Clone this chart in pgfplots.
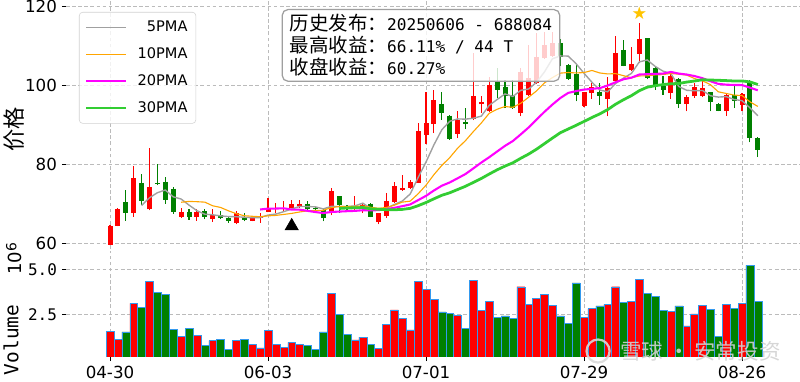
\documentclass[border=0pt]{standalone}
\usepackage{pgfplots}
\pgfplotsset{compat=1.18}
\usetikzlibrary{plotmarks}
\usepackage{fontspec}
\setmainfont{DejaVu Sans}
\newfontfamily\cjk{Noto Sans CJK SC}
\newfontfamily\mono{DejaVu Sans Mono}
\newfontfamily\sym{DejaVu Sans}
\definecolor{cred}{HTML}{FF0000}
\definecolor{cgreen}{HTML}{008000}
\definecolor{mafive}{HTML}{A0A0A0}
\definecolor{maten}{HTML}{FFA500}
\definecolor{matwenty}{HTML}{FF00FF}
\definecolor{mathirty}{HTML}{32CD32}
\definecolor{edgeblue}{HTML}{3399EE}
\definecolor{gridc}{HTML}{BBBBBB}
\definecolor{starc}{HTML}{FFC400}
\begin{document}
\begin{tikzpicture}
\path[use as bounding box] (0,0) rectangle (576pt,275.04pt);
% ---------------- price axis ----------------
\begin{axis}[
  at={(47.52pt,95.76pt)}, anchor=south west,
  scale only axis, width=528.48pt, height=179.28pt,
  xmin=-5.57, xmax=87.34, ymin=58.48, ymax=121.65,
  axis x line*=bottom, axis y line*=left,
  axis line style={draw=none},
  xtick={0,20,40,60,80}, xticklabels={},
  xtick style={draw=none},
  ytick={60,80,100,120}, yticklabels={60,80,100,120},
  ytick pos=left,
  tick align=outside, major tick length=3pt,
  ytick style={black, line width=0.6pt},
  yticklabel style={font=\fontsize{12}{14}\selectfont},
  grid=major,
  major grid style={gridc, line width=0.6pt, dash pattern=on 2.6pt off 1.8pt},
  unbounded coords=jump,
  legend style={at={(0.0177,0.952)}, anchor=north west,
    draw=gray!35, rounded corners=2.5pt, fill=white, fill opacity=0.8, text opacity=1,
    font=\fontsize{10.5}{12}\selectfont, inner xsep=4pt, inner ysep=4.5pt, row sep=6pt,
    /tikz/every odd column/.append style={column sep=5pt}},
  legend cell align=right,
  legend image code/.code={\draw[#1] (0pt,0pt) -- (29pt,0pt);},
]
% red wicks
\addplot[forget plot, cred, line width=0.8pt] coordinates {
(0,59.4)(0,64.6)(0,nan) (1,64.2)(1,69.0)(1,nan) (3,66.6)(3,79.5)(3,nan) (5,68.3)(5,84.0)(5,nan)
(9,66.4)(9,69.0)(9,nan) (11,65.6)(11,68.7)(11,nan) (13,65.4)(13,68.5)(13,nan) (16,64.7)(16,68.2)(16,nan)
(18,65.5)(18,66.8)(18,nan) (19,65.2)(19,67.6)(19,nan) (20,67.8)(20,71.3)(20,nan) (21,67.5)(21,70.2)(21,nan)
(22,68.2)(22,70.6)(22,nan) (23,68.8)(23,70.8)(23,nan) (24,69.0)(24,71.0)(24,nan) (28,67.0)(28,74.0)(28,nan)
(31,68.4)(31,71.9)(31,nan) (32,67.6)(32,70.2)(32,nan) (34,64.7)(34,67.6)(34,nan) (35,66.4)(35,72.7)(35,nan)
(36,70.2)(36,75.5)(36,nan) (37,73.3)(37,77.3)(37,nan) (38,73.7)(38,76.0)(38,nan) (39,75.2)(39,90.4)(39,nan)
(40,85.2)(40,98.2)(40,nan) (41,87.9)(41,98.7)(41,nan) (44,86.6)(44,93.4)(44,nan) (46,91.2)(46,108.1)(46,nan)
(47,93.0)(47,97.4)(47,nan) (48,93.2)(48,102.1)(48,nan) (52,92.1)(52,104.4)(52,nan) (53,97.4)(53,110.3)(53,nan)
(54,100.4)(54,113.2)(54,nan) (55,106.7)(55,113.6)(55,nan) (56,107.3)(56,113.6)(56,nan) (60,94.6)(60,98.4)(60,nan)
(61,96.5)(61,100.6)(61,nan) (63,92.1)(63,102.1)(63,nan) (64,100.8)(64,112.5)(64,nan) (66,103.6)(66,109.8)(66,nan)
(67,105.6)(67,115.9)(67,nan) (71,96.5)(71,103.0)(71,nan) (73,93.4)(73,97.6)(73,nan) (74,96.8)(74,100.6)(74,nan)
(75,97.0)(75,101.4)(75,nan) (78,92.3)(78,97.8)(78,nan) (80,93.4)(80,98.0)(80,nan)
};
% red bodies (open -> close)
\addplot[forget plot, cred, line width=3.6pt] coordinates {
(0,59.5)(0,64.4)(0,nan) (1,64.4)(1,68.5)(1,nan) (3,67.6)(3,76.5)(3,nan) (5,68.5)(5,74.2)(5,nan)
(9,66.6)(9,67.8)(9,nan) (11,66.6)(11,67.8)(11,nan) (13,66.2)(13,67.2)(13,nan) (16,65.1)(16,67.6)(16,nan)
(18,65.7)(18,66.5)(18,nan) (19,66.3)(19,66.7)(19,nan) (20,67.9)(20,68.7)(20,nan) (21,68.5)(21,68.9)(21,nan)
(22,68.6)(22,69.0)(22,nan) (23,69.0)(23,69.8)(23,nan) (24,69.3)(24,70.0)(24,nan) (28,67.8)(28,73.1)(28,nan)
(31,68.6)(31,69.5)(31,nan) (32,68.9)(32,69.7)(32,nan) (34,65.3)(34,67.5)(34,nan) (35,66.8)(35,70.7)(35,nan)
(36,70.3)(36,74.4)(36,nan) (37,73.4)(37,74.0)(37,nan) (38,74.0)(38,75.6)(38,nan) (39,75.2)(39,88.3)(39,nan)
(40,87.5)(40,90.4)(40,nan) (41,90.2)(41,96.2)(41,nan) (44,87.7)(44,91.3)(44,nan) (46,91.4)(46,97.4)(46,nan)
(47,95.2)(47,95.7)(47,nan) (48,93.4)(48,100.1)(48,nan) (52,93.0)(52,103.5)(52,nan) (53,97.6)(53,101.8)(53,nan)
(54,100.6)(54,107.3)(54,nan) (55,106.9)(55,110.3)(55,nan) (56,107.5)(56,110.8)(56,nan) (60,94.8)(60,98.2)(60,nan)
(61,98.0)(61,99.5)(61,nan) (63,96.6)(63,99.3)(63,nan) (64,101.0)(64,108.2)(64,nan) (66,103.8)(66,105.4)(66,nan)
(67,107.9)(67,111.8)(67,nan) (71,98.0)(71,102.4)(71,nan) (73,95.3)(73,97.0)(73,nan) (74,97.2)(74,99.5)(74,nan)
(75,97.2)(75,99.3)(75,nan) (78,93.6)(78,97.6)(78,nan) (80,95.1)(80,97.8)(80,nan)
};
% green wicks
\addplot[forget plot, cgreen, line width=0.8pt] coordinates {
(2,65.6)(2,73.5)(2,nan) (4,69.6)(4,77.6)(4,nan) (6,74.6)(6,80.0)(6,nan) (7,70.0)(7,76.8)(7,nan)
(8,67.4)(8,74.2)(8,nan) (10,65.9)(10,68.7)(10,nan) (12,66.0)(12,68.5)(12,nan) (14,66.0)(14,68.2)(14,nan)
(15,65.1)(15,66.8)(15,nan) (17,65.5)(17,67.5)(17,nan) (25,68.2)(25,70.6)(25,nan) (26,68.3)(26,69.3)(26,nan)
(27,65.5)(27,68.8)(27,nan) (29,67.6)(29,71.9)(29,nan) (30,68.0)(30,69.6)(30,nan) (33,66.5)(33,70.2)(33,nan)
(42,91.3)(42,98.4)(42,nan) (43,86.2)(43,92.4)(43,nan) (45,88.9)(45,94.2)(45,nan) (49,96.7)(49,104.4)(49,nan)
(50,94.2)(50,101.4)(50,nan) (51,94.0)(51,101.4)(51,nan) (57,104.8)(57,111.7)(57,nan) (58,101.4)(58,105.4)(58,nan)
(59,95.9)(59,105.2)(59,nan) (62,95.1)(62,100.6)(62,nan) (65,104.8)(65,111.5)(65,nan) (68,101.5)(68,112.1)(68,nan)
(69,98.9)(69,104.8)(69,nan) (70,97.6)(70,102.4)(70,nan) (72,94.2)(72,101.8)(72,nan) (76,93.4)(76,98.4)(76,nan)
(77,93.4)(77,95.4)(77,nan) (79,94.2)(79,99.9)(79,nan) (81,85.5)(81,101.4)(81,nan) (82,81.8)(82,86.8)(82,nan)
};
% green bodies (open -> close)
\addplot[forget plot, cgreen, line width=3.6pt] coordinates {
(2,70.3)(2,67.6)(2,nan) (4,75.1)(4,70.6)(4,nan) (6,75.1)(6,74.9)(6,nan) (7,75.6)(7,71.0)(7,nan)
(8,73.8)(8,67.9)(8,nan) (10,67.8)(10,66.5)(10,nan) (12,68.0)(12,66.5)(12,nan) (14,67.0)(14,66.4)(14,nan)
(15,66.4)(15,65.6)(15,nan) (17,66.7)(17,65.9)(17,nan) (25,70.0)(25,68.5)(25,nan) (26,69.0)(26,68.6)(26,nan)
(27,68.3)(27,66.3)(27,nan) (29,71.9)(29,69.7)(29,nan) (30,69.3)(30,68.5)(30,nan) (33,70.0)(33,66.6)(33,nan)
(42,95.3)(42,93.1)(42,nan) (43,92.3)(43,86.4)(43,nan) (45,90.6)(45,90.1)(45,nan) (49,101.2)(49,98.7)(49,nan)
(50,99.5)(50,97.2)(50,nan) (51,97.6)(51,94.2)(51,nan) (57,110.7)(57,107.1)(57,nan) (58,105.2)(58,101.6)(58,nan)
(59,102.9)(59,97.6)(59,nan) (62,98.4)(62,97.2)(62,nan) (65,109.0)(65,105.0)(65,nan) (68,111.9)(68,101.8)(68,nan)
(69,104.4)(69,100.1)(69,nan) (70,99.9)(70,98.9)(70,nan) (72,101.6)(72,95.3)(72,nan) (76,98.2)(76,95.7)(76,nan)
(77,95.2)(77,93.6)(77,nan) (79,97.6)(79,95.9)(79,nan) (81,101.0)(81,86.6)(81,nan) (82,86.6)(82,83.5)(82,nan)
};
% moving averages
\addplot[mafive, line width=1pt] coordinates {
(4,69.52)(5,71.48)(6,72.76)(7,73.44)(8,71.72)(9,71.16)(10,69.62)(11,68.2)(12,67.3)(13,67.16)(14,66.88)(15,66.7)(16,66.66)(17,66.54)(18,66.4)(19,66.46)(20,67.08)(21,67.34)(22,67.96)(23,68.62)(24,69.28)(25,69.24)(26,69.18)(27,68.64)(28,69.3)(29,69.24)(30,69.24)(31,69.42)(32,70.1)(33,68.8)(34,68.36)(35,68.8)(36,69.78)(37,70.64)(38,72.44)(39,76.6)(40,80.54)(41,84.9)(42,88.72)(43,90.88)(44,91.48)(45,91.42)(46,91.66)(47,92.18)(48,94.92)(49,96.4)(50,97.82)(51,97.18)(52,98.74)(53,99.08)(54,100.8)(55,103.42)(56,106.74)(57,107.46)(58,107.42)(59,105.48)(60,103.06)(61,100.8)(62,98.82)(63,98.36)(64,100.48)(65,101.84)(66,103.02)(67,105.94)(68,106.44)(69,104.82)(70,103.6)(71,103.0)(72,99.7)(73,98.74)(74,98.62)(75,98.7)(76,97.36)(77,97.02)(78,97.14)(79,96.42)(80,96.12)(81,94.3)(82,92.28)
};
\addlegendentry{5PMA}
\addplot[maten, line width=0.8pt] coordinates {
(9,70.34)(10,70.55)(11,70.48)(12,70.37)(13,69.44)(14,69.02)(15,68.16)(16,67.43)(17,66.92)(18,66.78)(19,66.67)(20,66.89)(21,67.0)(22,67.25)(23,67.51)(24,67.87)(25,68.16)(26,68.26)(27,68.3)(28,68.96)(29,69.26)(30,69.24)(31,69.3)(32,69.37)(33,69.05)(34,68.8)(35,69.02)(36,69.6)(37,70.37)(38,70.62)(39,72.48)(40,74.67)(41,77.34)(42,79.68)(43,81.66)(44,84.04)(45,85.98)(46,88.28)(47,90.45)(48,92.9)(49,93.94)(50,94.62)(51,94.42)(52,95.46)(53,97.0)(54,98.6)(55,100.62)(56,101.96)(57,103.1)(58,103.25)(59,103.14)(60,103.24)(61,103.77)(62,103.14)(63,102.89)(64,102.98)(65,102.45)(66,101.91)(67,102.38)(68,102.4)(69,102.65)(70,102.72)(71,103.01)(72,102.82)(73,102.59)(74,101.72)(75,101.15)(76,100.18)(77,98.36)(78,97.94)(79,97.52)(80,97.41)(81,95.83)(82,94.65)
};
\addlegendentry{10PMA}
\addplot[matwenty, line width=1.5pt] coordinates {
(19,68.5)(20,68.72)(21,68.74)(22,68.81)(23,68.48)(24,68.45)(25,68.16)(26,67.85)(27,67.61)(28,67.87)(29,67.97)(30,68.07)(31,68.15)(32,68.31)(33,68.28)(34,68.34)(35,68.59)(36,68.93)(37,69.34)(38,69.79)(39,70.87)(40,71.96)(41,73.32)(42,74.53)(43,75.36)(44,76.42)(45,77.5)(46,78.94)(47,80.41)(48,81.76)(49,83.21)(50,84.65)(51,85.88)(52,87.57)(53,89.33)(54,91.32)(55,93.3)(56,95.12)(57,96.78)(58,98.08)(59,98.54)(60,98.93)(61,99.1)(62,99.3)(63,99.95)(64,100.79)(65,101.54)(66,101.94)(67,102.74)(68,102.83)(69,102.9)(70,102.98)(71,103.39)(72,102.98)(73,102.74)(74,102.35)(75,101.8)(76,101.05)(77,100.37)(78,100.17)(79,100.09)(80,100.07)(81,99.42)(82,98.74)
};
\addlegendentry{20PMA}
\addplot[mathirty, line width=2pt] coordinates {
(29,68.76)(30,68.89)(31,68.93)(32,69.0)(33,68.67)(34,68.56)(35,68.45)(36,68.43)(37,68.53)(38,68.79)(39,69.47)(40,70.27)(41,71.21)(42,72.1)(43,72.74)(44,73.57)(45,74.39)(46,75.38)(47,76.37)(48,77.49)(49,78.56)(50,79.51)(51,80.35)(52,81.5)(53,82.57)(54,83.81)(55,85.21)(56,86.61)(57,87.97)(58,88.92)(59,89.85)(60,90.84)(61,91.84)(62,92.76)(63,93.85)(64,95.21)(65,96.35)(66,97.38)(67,98.64)(68,99.52)(69,99.91)(70,100.19)(71,100.4)(72,100.47)(73,100.83)(74,101.1)(75,101.41)(76,101.35)(77,101.28)(78,101.2)(79,101.1)(80,101.12)(81,100.87)(82,100.2)
};
\addlegendentry{30PMA}
% publication marker and peak marker
\addplot[forget plot, only marks, mark=triangle*, mark size=5.5pt, black] coordinates {(23,64.3)};
\addplot[forget plot, only marks, mark=text,
  text mark={\textcolor{starc}{\sym\fontsize{12.5}{12.5}\selectfont ★}}] coordinates {(67,118.27)};
\end{axis}
% ---------------- volume axis ----------------
\begin{axis}[
  at={(47.52pt,18pt)}, anchor=south west,
  scale only axis, width=528.48pt, height=76.32pt,
  xmin=-5.57, xmax=87.34, ymin=0.17, ymax=6.01,
  axis x line*=bottom, axis y line*=left,
  axis line style={draw=none},
  xtick={0,20,40,60,80}, xticklabels={04-30,06-03,07-01,07-29,08-26},
  ytick={2.5,5}, yticklabels={2.5,5.0},
  xtick pos=left, ytick pos=left,
  tick align=outside, major tick length=3pt,
  tick style={black, line width=0.6pt},
  xticklabel style={font=\fontsize{12}{14}\selectfont},
  yticklabel style={font=\mono\fontsize{11.5}{14}\selectfont},
  grid=major,
  major grid style={gridc, line width=0.6pt, dash pattern=on 2.6pt off 1.8pt},
]
\addplot[ybar, bar width=1, bar shift=0pt, fill=cred, draw=edgeblue, line width=0.35pt] coordinates {
(0,1.60)(1,1.16)(3,3.13)(5,4.32)(9,1.29)(11,1.38)(13,1.07)(16,1.07)(18,0.87)(19,0.67)(20,1.64)(21,0.87)(22,0.72)(23,0.98)(24,0.87)(28,3.66)(31,1.11)(32,1.26)(34,0.63)(35,1.98)(36,2.77)(37,2.28)(38,1.66)(39,4.34)(40,3.90)(41,3.35)(44,2.47)(46,4.39)(47,2.72)(48,3.22)(52,4.04)(53,3.07)(54,3.40)(55,3.62)(56,3.02)(60,2.37)(61,2.83)(63,3.07)(64,4.04)(66,3.22)(67,4.43)(71,2.68)(73,1.89)(74,2.54)(75,3.02)(78,3.07)(80,3.13)
};
\addplot[ybar, bar width=1, bar shift=0pt, fill=cgreen, draw=edgeblue, line width=0.35pt] coordinates {
(2,1.56)(4,2.91)(6,3.73)(7,3.64)(8,1.69)(10,1.75)(12,0.81)(14,1.14)(15,0.57)(17,1.13)(25,0.81)(26,0.57)(27,1.55)(29,2.52)(30,1.40)(33,0.87)(42,2.65)(43,2.59)(45,1.75)(49,2.36)(50,2.43)(51,2.28)(57,2.43)(58,2.04)(59,4.25)(62,2.98)(65,3.18)(68,3.66)(69,3.49)(70,2.74)(72,2.98)(76,2.78)(77,1.31)(79,2.83)(81,5.22)(82,3.22)
};
\end{axis}
% ---------------- labels and annotation ----------------
\node[rotate=90, font=\cjk\fontsize{16}{16}\selectfont] at (10.08pt,181.8pt) {价格};
\node[rotate=90, font=\fontsize{13}{13}\selectfont] at (10.08pt,88.56pt) {10\raisebox{0.55ex}{\fontsize{10}{10}\selectfont 6}};
\node[rotate=90, font=\mono\fontsize{14}{14}\selectfont] at (7.92pt,30.24pt) {Volume};
\node[anchor=north west, draw=gray!75, line width=0.9pt, rounded corners=4pt,
  fill=white, fill opacity=0.8, text opacity=1, inner xsep=5.5pt, inner ysep=3.5pt,
  align=left, font=\fontsize{14}{15.8}\selectfont] at (202.8pt,268.56pt)
  {{\cjk 历史发布：}{\mono\fontsize{11.6}{15.8}\selectfont 20250606 - 688084}\\
   {\cjk 最高收益：}{\mono\fontsize{11.6}{15.8}\selectfont 66.11\% / 44 T}\\
   {\cjk 收盘收益：}{\mono\fontsize{11.6}{15.8}\selectfont 60.27\%}};
% watermark
\draw[gray!30, line width=1.6pt, opacity=0.9] (430.6pt,22.3pt) circle (8.3pt);
\node[font=\cjk\fontsize{15.5}{15.5}\selectfont, text=gray!35, opacity=0.9, anchor=west] at (443pt,22.3pt) {雪球 · 安常投资};
\end{tikzpicture}
\end{document}
